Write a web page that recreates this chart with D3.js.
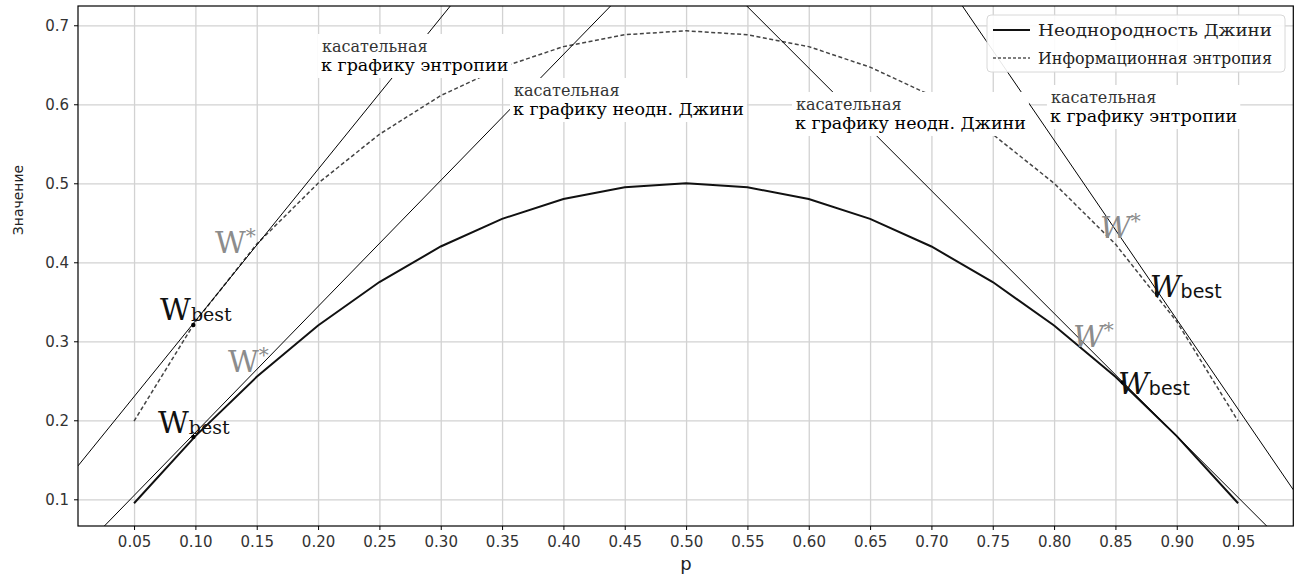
<!DOCTYPE html>
<html>
<head>
<meta charset="utf-8">
<script src="https://d3js.org/d3.v7.min.js"></script>
<style>
  body { margin: 0; background: #fff; }
  .grid line { stroke: #d2d2d2; stroke-width: 1.3; }
  .grid .domain { stroke: none; }
  .axis text { font-family: "DejaVu Sans", sans-serif; font-size: 15px; fill: #333; }
  .axis line { stroke: #000; }
  .axis .domain { stroke: none; }
</style>
</head>
<body>
<svg id="chart"></svg>
<script>
// values
const pValues = [0.05, 0.10, 0.15, 0.20, 0.25, 0.30, 0.35, 0.40, 0.45, 0.50,
                 0.55, 0.60, 0.65, 0.70, 0.75, 0.80, 0.85, 0.90, 0.95];
const giniValues = [0.095, 0.180, 0.255, 0.320, 0.375, 0.420, 0.455, 0.480, 0.495, 0.500,
                    0.495, 0.480, 0.455, 0.420, 0.375, 0.320, 0.255, 0.180, 0.095];
const entropyValues = [0.199, 0.325, 0.423, 0.500, 0.562, 0.611, 0.647, 0.673, 0.688, 0.693,
                       0.688, 0.673, 0.647, 0.611, 0.562, 0.500, 0.423, 0.325, 0.199];
const yTicks = [0.1, 0.2, 0.3, 0.4, 0.5, 0.6, 0.7];

// tangent lines: a point on each line and its slope
const tangentPoints = [[0.0467, 0.2236], [0.0258, 0.0662], [0.9733, 0.0662], [0.9951, 0.1118]];
const tangentSlopes = [1.918, 1.595, -1.553, -2.270];

// chosen points (W_best) and annotations
const bestPoints = [[0.0983, 0.3206], [0.0983, 0.179], [0.8837, 0.3608], [0.856, 0.248]];
const bestLabelPos = [[0.0712, 0.3273], [0.0695, 0.184], [0.878, 0.3557], [0.8521, 0.2338]];
const starLabelPos = [[0.116, 0.4118], [0.1266, 0.2612], [0.8374, 0.4308], [0.8154, 0.2925]];
const italicLabel = [false, false, true, true];

const captionLine1 = ["касательная", "касательная", "касательная", "касательная"];
const captionLine2 = ["к графику энтропии", "к графику неодн. Джини", "к графику неодн. Джини", "к графику энтропии"];
const captionPos = [[0.2024, 0.6662], [0.3589, 0.6105], [0.5888, 0.5928], [0.7966, 0.6016]];

const legendLabels = ["Неоднородность Джини", "Информационная энтропия"];

const width = 1304, height = 577;
const margins = {top: 6, right: 10.7, bottom: 51, left: 78};
const chartWidth = width - margins.left - margins.right;
const chartHeight = height - margins.top - margins.bottom;

const svg = d3.select("#chart").attr("width", width).attr("height", height);

const xScale = d3.scaleLinear().domain([0.0043, 0.995]).range([0, chartWidth]);
const yScale = d3.scaleLinear().domain([0.0662, 0.7244]).range([chartHeight, 0]);

svg.append("defs").append("clipPath").attr("id", "plotclip")
   .append("rect").attr("width", chartWidth).attr("height", chartHeight);

let chartArea = svg.append("g").attr("transform", `translate(${margins.left}, ${margins.top})`);

// gridlines
chartArea.append("g").attr("class", "grid")
  .attr("transform", `translate(0, ${chartHeight})`)
  .call(d3.axisBottom(xScale).tickValues(pValues).tickFormat("").tickSize(-chartHeight));
chartArea.append("g").attr("class", "grid")
  .call(d3.axisLeft(yScale).tickValues(yTicks).tickFormat("").tickSize(-chartWidth));

let plot = chartArea.append("g").attr("clip-path", "url(#plotclip)");

let lineGen = d3.line().x(d => xScale(d[0])).y(d => yScale(d[1]));

// entropy (dashed)
plot.append("path")
  .datum(pValues.map((p, i) => [p, entropyValues[i]]))
  .attr("fill", "none").attr("stroke", "#444").attr("stroke-width", 1.5)
  .attr("stroke-dasharray", "4,2.5")
  .attr("d", lineGen);

// gini (solid)
plot.append("path")
  .datum(pValues.map((p, i) => [p, giniValues[i]]))
  .attr("fill", "none").attr("stroke", "#111").attr("stroke-width", 2)
  .attr("d", lineGen);

// tangents
const xd = xScale.domain();
tangentPoints.forEach((pt, i) => {
  let ends = xd.map(x => [x, pt[1] + tangentSlopes[i] * (x - pt[0])]);
  plot.append("path").datum(ends)
    .attr("fill", "none").attr("stroke", "#000").attr("stroke-width", 1)
    .attr("d", lineGen);
});

// best points
plot.selectAll("circle").data(bestPoints).join("circle")
  .attr("cx", d => xScale(d[0])).attr("cy", d => yScale(d[1]))
  .attr("r", 2.2).attr("fill", "#000");

// W* labels
starLabelPos.forEach((pos, i) => {
  let t = chartArea.append("text")
    .attr("x", xScale(pos[0])).attr("y", yScale(pos[1]))
    .style("font-family", "DejaVu Serif, serif")
    .style("font-size", "30px")
    .style("font-style", italicLabel[i] ? "italic" : "normal")
    .attr("fill", "#8c8c8c");
  t.append("tspan").text("W");
  t.append("tspan").attr("dy", -10).style("font-size", "20px").text("*");
});

// W_best labels
bestLabelPos.forEach((pos, i) => {
  let t = chartArea.append("text")
    .attr("x", xScale(pos[0])).attr("y", yScale(pos[1]))
    .style("font-family", "DejaVu Serif, serif")
    .style("font-size", "30px")
    .attr("fill", "#111");
  t.append("tspan").style("font-style", italicLabel[i] ? "italic" : "normal").text("W");
  t.append("tspan").attr("dy", 1)
    .style("font-family", italicLabel[i] ? "DejaVu Sans, sans-serif" : "DejaVu Serif, serif")
    .style("font-size", "19px").text("best");
});

// tangent captions with white boxes
captionPos.forEach((pos, i) => {
  let g = chartArea.append("g");
  let x = xScale(pos[0]), y = yScale(pos[1]);
  g.append("text").attr("x", x + 1).attr("y", y)
    .style("font-family", "DejaVu Serif, serif").style("font-size", "16px")
    .attr("fill", "#333").text(captionLine1[i]);
  g.append("text").attr("x", x).attr("y", y + 19)
    .style("font-family", "DejaVu Serif, serif").style("font-size", "17.5px")
    .attr("fill", "#000").text(captionLine2[i]);
  let bb = g.node().getBBox();
  g.insert("rect", "text")
    .attr("x", bb.x - 3).attr("y", bb.y - 3)
    .attr("width", bb.width + 6).attr("height", bb.height + 6)
    .attr("fill", "#fff");
});

// frame
chartArea.append("rect")
  .attr("width", chartWidth).attr("height", chartHeight)
  .attr("fill", "none").attr("stroke", "#000").attr("stroke-width", 1.2);

// axes
chartArea.append("g").attr("class", "axis")
  .attr("transform", `translate(0, ${chartHeight})`)
  .call(d3.axisBottom(xScale).tickValues(pValues).tickFormat(d3.format(".2f")).tickSize(4).tickPadding(6));
chartArea.append("g").attr("class", "axis")
  .call(d3.axisLeft(yScale).tickValues(yTicks).tickFormat(d3.format(".1f")).tickSize(4).tickPadding(5));

// axis titles
svg.append("text")
  .attr("x", margins.left + xScale(0.5)).attr("y", 570)
  .attr("text-anchor", "middle")
  .style("font-family", "DejaVu Sans, sans-serif").style("font-size", "18px").attr("fill", "#222")
  .text("p");
svg.append("text")
  .attr("transform", "translate(23, 200) rotate(-90)")
  .attr("text-anchor", "middle")
  .style("font-family", "DejaVu Sans, sans-serif").style("font-size", "14px").attr("fill", "#222")
  .text("Значение");

// legend
let legend = svg.append("g").attr("transform", "translate(987, 15)");
legend.append("rect").attr("width", 298).attr("height", 57).attr("rx", 4)
  .attr("fill", "#fff").attr("fill-opacity", 0.9).attr("stroke", "#d8d8d8");
legendLabels.forEach((lab, i) => {
  let yy = 15 + i * 28;
  legend.append("line").attr("x1", 6).attr("x2", 43).attr("y1", yy).attr("y2", yy)
    .attr("stroke", i === 0 ? "#111" : "#555")
    .attr("stroke-width", i === 0 ? 2 : 1.3)
    .attr("stroke-dasharray", i === 0 ? null : "3,2");
  legend.append("text").attr("x", 51).attr("y", yy + 6)
    .style("font-family", "DejaVu Serif, serif").style("font-size", "17px").attr("fill", "#222")
    .attr("textLength", 234).attr("lengthAdjust", "spacingAndGlyphs")
    .text(lab);
});
</script>
</body>
</html>
